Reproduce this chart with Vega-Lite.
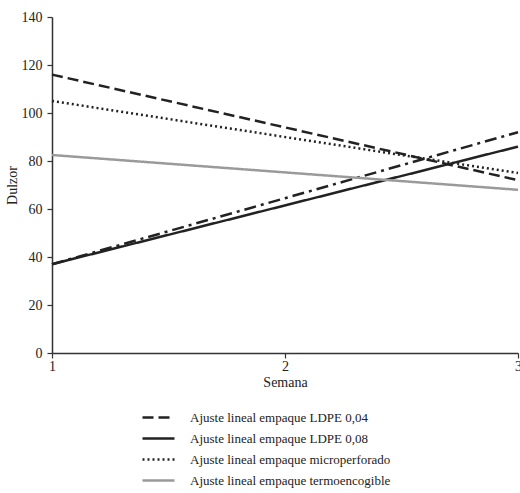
{
  "$schema": "https://vega.github.io/schema/vega-lite/v6.json",
  "width": 466,
  "height": 336,
  "autosize": {"type": "none"},
  "padding": {"left": 52, "top": 17, "right": 2, "bottom": 140},
  "config": {
    "font": "Liberation Serif",
    "view": {"stroke": null},
    "axis": {
      "grid": false,
      "domainColor": "#333",
      "domainWidth": 1.5,
      "tickColor": "#333",
      "tickWidth": 1.2,
      "tickSize": 5,
      "labelColor": "#222",
      "titleColor": "#222",
      "labelFont": "Liberation Serif",
      "titleFont": "Liberation Serif",
      "labelFontSize": 14,
      "titleFontSize": 14,
      "titleFontWeight": "normal"
    },
    "legend": {"labelFont": "Liberation Serif", "labelFontSize": 13, "labelColor": "#222", "labelLimit": 300}
  },
  "datasets": {
    "ajustes": [
      {"semana": 1, "dulzor": 116, "serie": "Ajuste lineal empaque LDPE 0,04"},
      {"semana": 3, "dulzor": 72, "serie": "Ajuste lineal empaque LDPE 0,04"},
      {"semana": 1, "dulzor": 37, "serie": "Ajuste lineal empaque LDPE 0,08"},
      {"semana": 3, "dulzor": 86, "serie": "Ajuste lineal empaque LDPE 0,08"},
      {"semana": 1, "dulzor": 105, "serie": "Ajuste lineal empaque microperforado"},
      {"semana": 3, "dulzor": 75, "serie": "Ajuste lineal empaque microperforado"},
      {"semana": 1, "dulzor": 82.5, "serie": "Ajuste lineal empaque termoencogible"},
      {"semana": 3, "dulzor": 68, "serie": "Ajuste lineal empaque termoencogible"}
    ],
    "extra": [
      {"semana": 1, "dulzor": 37, "serie": "Ajuste lineal (sin leyenda)"},
      {"semana": 3, "dulzor": 92, "serie": "Ajuste lineal (sin leyenda)"}
    ]
  },
  "encoding": {
    "x": {
      "field": "semana",
      "type": "quantitative",
      "scale": {"domain": [1, 3], "nice": false},
      "axis": {"values": [1, 2, 3], "labelExpr": "'' + round(datum.value)", "labelOverlap": false, "labelFlush": false, "labelPadding": 1, "title": "Semana", "titlePadding": 2}
    },
    "y": {
      "field": "dulzor",
      "type": "quantitative",
      "scale": {"domain": [0, 140], "nice": false},
      "axis": {"values": [0, 20, 40, 60, 80, 100, 120, 140], "labelOverlap": false, "labelPadding": 5, "title": "Dulzor", "titlePadding": 2}
    }
  },
  "layer": [
    {
      "data": {"name": "extra"},
      "mark": {"type": "line", "color": "#222", "strokeWidth": 2.5, "strokeDash": [12, 5, 3, 5]}
    },
    {
      "data": {"name": "ajustes"},
      "mark": {"type": "line", "strokeWidth": 2.5},
      "encoding": {
        "color": {
          "field": "serie",
          "type": "nominal",
          "scale": {
            "domain": ["Ajuste lineal empaque LDPE 0,04", "Ajuste lineal empaque LDPE 0,08", "Ajuste lineal empaque microperforado", "Ajuste lineal empaque termoencogible"],
            "range": ["#222222", "#222222", "#222222", "#9a9a9a"]
          },
          "legend": {
            "orient": "none",
            "legendX": 97,
            "legendY": 391,
            "padding": 0,
            "title": null,
            "symbolType": "M-2,0H2",
            "symbolSize": 256,
            "symbolStrokeWidth": 2.5,
            "rowPadding": 4,
            "labelOffset": 22,
            "labelLimit": 300
          }
        },
        "strokeDash": {
          "field": "serie",
          "type": "nominal",
          "scale": {
            "domain": ["Ajuste lineal empaque LDPE 0,04", "Ajuste lineal empaque LDPE 0,08", "Ajuste lineal empaque microperforado", "Ajuste lineal empaque termoencogible"],
            "range": [[11, 5], [1, 0], [2, 3], [1, 0]]
          },
          "legend": {
            "orient": "none",
            "legendX": 97,
            "legendY": 391,
            "padding": 0,
            "title": null,
            "symbolType": "M-2,0H2",
            "symbolSize": 256,
            "symbolStrokeWidth": 2.5,
            "rowPadding": 4,
            "labelOffset": 22,
            "labelLimit": 300
          }
        }
      }
    }
  ]
}
